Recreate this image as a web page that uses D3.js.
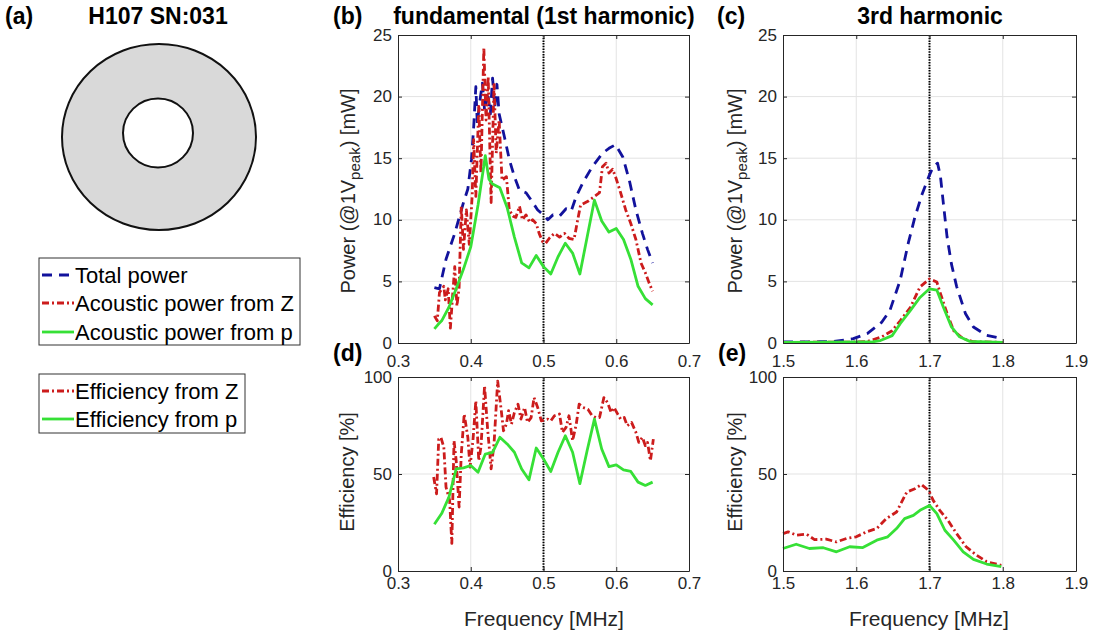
<!DOCTYPE html>
<html>
<head>
<meta charset="utf-8">
<script src="https://cdn.jsdelivr.net/npm/d3@7"></script>
<style>
  body { margin: 0; background: #fff; }
  text { font-family: "Liberation Sans", Arial, sans-serif; fill: #000; }
  .axis text { font-size: 17px; fill: #262626; }
  .axis path, .axis line { stroke: #262626; }
</style>
</head>
<body>
<div id="chart"></div>
<script>
// ---- data ----
const fundTicks = [0.3, 0.4, 0.5, 0.6, 0.7];
const thirdTicks = [1.5, 1.6, 1.7, 1.8, 1.9];
const powerTicks = [0, 5, 10, 15, 20, 25];
const effTicks = [0, 50, 100];

const powerLegend = ["Total power", "Acoustic power from Z", "Acoustic power from p"];
const effLegend = ["Efficiency from Z", "Efficiency from p"];

// (b) fundamental, power [mW]
const fundTotal = [[0.350,4.5],[0.357,4.4],[0.366,6.8],[0.378,8.9],[0.389,11.2],[0.396,12.5],[0.401,14.9],[0.404,17.5],[0.407,20.8],[0.409,17.8],[0.412,19.4],[0.416,21.1],[0.419,18.9],[0.423,20.4],[0.427,18.6],[0.430,21.5],[0.433,19.1],[0.436,21.0],[0.439,18.6],[0.446,16.8],[0.453,14.9],[0.460,13.5],[0.467,12.4],[0.476,12.2],[0.483,11.6],[0.492,10.8],[0.500,10.4],[0.506,10.0],[0.513,10.4],[0.522,10.3],[0.531,10.9],[0.538,10.7],[0.545,11.9],[0.554,13.0],[0.567,14.3],[0.581,15.4],[0.590,15.8],[0.599,16.1],[0.609,15.1],[0.618,13.2],[0.627,10.8],[0.636,8.9],[0.643,7.6],[0.650,6.5]];
const fundAcZ = [[0.350,2.2],[0.354,1.8],[0.357,4.1],[0.363,4.6],[0.365,3.5],[0.369,4.4],[0.372,1.2],[0.375,3.8],[0.378,6.2],[0.381,3.0],[0.384,4.5],[0.387,11.1],[0.390,7.6],[0.394,10.8],[0.398,8.0],[0.402,12.0],[0.404,16.5],[0.407,11.9],[0.411,19.2],[0.414,13.8],[0.418,24.0],[0.421,18.1],[0.424,21.6],[0.428,11.4],[0.432,21.1],[0.435,15.4],[0.439,18.1],[0.443,13.2],[0.449,13.5],[0.453,10.8],[0.458,10.3],[0.462,10.2],[0.467,11.1],[0.471,10.0],[0.476,10.4],[0.481,9.8],[0.485,10.0],[0.490,9.7],[0.494,8.9],[0.499,8.2],[0.503,8.1],[0.508,8.5],[0.515,8.9],[0.522,8.6],[0.529,8.9],[0.535,8.5],[0.542,8.4],[0.547,10.0],[0.551,11.2],[0.561,11.5],[0.570,11.9],[0.577,12.2],[0.581,14.3],[0.586,14.6],[0.590,13.8],[0.595,14.1],[0.599,13.5],[0.606,12.2],[0.613,10.8],[0.620,9.7],[0.627,8.4],[0.634,6.5],[0.640,5.7],[0.645,4.9],[0.650,4.2]];
const fundAcP = [[0.350,1.14],[0.355,1.5],[0.360,1.8],[0.370,2.9],[0.380,4.4],[0.390,6.0],[0.400,7.8],[0.410,11.2],[0.420,15.2],[0.425,13.3],[0.430,12.9],[0.440,12.6],[0.450,11.0],[0.460,8.6],[0.470,6.5],[0.480,6.1],[0.490,7.1],[0.500,6.2],[0.510,5.6],[0.520,7.0],[0.530,8.1],[0.540,7.3],[0.550,5.6],[0.560,8.6],[0.570,11.6],[0.580,9.9],[0.590,9.0],[0.600,9.3],[0.610,8.4],[0.620,6.8],[0.630,4.6],[0.640,3.6],[0.650,3.1]];

// (d) fundamental, efficiency [%]
const fundEffZ = [[0.349,48.4],[0.353,39.8],[0.356,68.0],[0.359,68.9],[0.363,63.8],[0.366,43.2],[0.371,36.4],[0.374,14.2],[0.377,67.2],[0.380,56.9],[0.384,33.0],[0.387,60.3],[0.391,80.9],[0.396,68.9],[0.399,53.5],[0.403,67.2],[0.407,87.7],[0.411,56.9],[0.414,63.8],[0.419,95.4],[0.423,74.0],[0.428,52.6],[0.432,65.5],[0.437,97.9],[0.442,82.6],[0.445,72.3],[0.449,75.7],[0.452,82.6],[0.456,75.7],[0.460,81.7],[0.465,86.0],[0.469,78.3],[0.474,84.3],[0.478,76.6],[0.483,79.1],[0.487,89.4],[0.492,84.3],[0.497,77.4],[0.501,77.8],[0.506,78.3],[0.510,77.4],[0.515,80.0],[0.522,80.9],[0.526,71.5],[0.531,74.0],[0.535,80.0],[0.540,67.2],[0.545,75.7],[0.549,86.0],[0.554,84.3],[0.561,83.4],[0.567,80.0],[0.572,79.1],[0.577,79.1],[0.583,89.4],[0.588,86.8],[0.593,81.7],[0.597,84.3],[0.602,80.9],[0.606,78.3],[0.611,79.1],[0.615,74.9],[0.621,76.6],[0.627,71.5],[0.631,66.3],[0.636,68.9],[0.640,64.6],[0.643,66.3],[0.647,56.9],[0.651,68.0]];
const fundEffP = [[0.35,24.1],[0.36,29.6],[0.37,38.1],[0.38,52.6],[0.39,53.2],[0.40,54.4],[0.41,50.9],[0.42,60.3],[0.43,61.2],[0.44,68.9],[0.45,65.5],[0.46,61.2],[0.47,52.6],[0.48,47.0],[0.49,63.4],[0.50,57.8],[0.51,51.3],[0.52,61.2],[0.53,69.7],[0.54,61.2],[0.55,45.0],[0.56,62.1],[0.57,78.3],[0.58,62.9],[0.59,53.8],[0.60,54.7],[0.61,52.1],[0.62,51.3],[0.63,45.8],[0.64,44.1],[0.65,45.8]];

// (c) 3rd harmonic, power [mW]
const thirdTotal = [[1.500,0.08],[1.550,0.10],[1.569,0.12],[1.596,0.35],[1.615,0.76],[1.635,1.7],[1.646,2.65],[1.660,5.1],[1.671,8.1],[1.680,10.2],[1.690,12.1],[1.699,13.5],[1.705,14.3],[1.711,14.6],[1.715,13.5],[1.719,11.3],[1.724,8.6],[1.730,6.4],[1.737,4.6],[1.749,2.4],[1.760,1.3],[1.778,0.62],[1.800,0.35]];
const thirdAcZ = [[1.500,0.05],[1.600,0.08],[1.615,0.12],[1.635,0.5],[1.649,1.0],[1.660,1.8],[1.674,2.9],[1.687,4.55],[1.700,5.2],[1.710,4.95],[1.715,4.0],[1.724,2.4],[1.733,1.0],[1.746,0.35],[1.760,0.1],[1.800,0.05]];
const thirdAcP = [[1.500,0.05],[1.620,0.08],[1.633,0.2],[1.649,0.6],[1.660,1.57],[1.674,2.65],[1.687,3.7],[1.700,4.4],[1.710,4.3],[1.719,2.9],[1.730,1.3],[1.741,0.5],[1.755,0.13],[1.800,0.05]];

// (e) 3rd harmonic, efficiency [%]
const thirdEffZ = [[1.500,19.3],[1.507,20.2],[1.518,18.5],[1.532,19.0],[1.543,16.2],[1.559,16.4],[1.573,15.0],[1.587,16.8],[1.600,17.6],[1.614,20.2],[1.628,21.9],[1.641,27.0],[1.655,30.4],[1.669,40.7],[1.680,42.4],[1.689,44.6],[1.696,42.4],[1.700,40.7],[1.705,36.4],[1.714,31.3],[1.725,26.2],[1.737,19.3],[1.750,12.5],[1.764,8.2],[1.778,4.8],[1.798,2.9]];
const thirdEffP = [[1.500,11.6],[1.518,13.8],[1.536,11.6],[1.555,12.0],[1.573,9.9],[1.591,12.5],[1.609,12.1],[1.628,15.9],[1.643,17.6],[1.655,21.9],[1.666,27.0],[1.678,28.7],[1.687,31.3],[1.700,33.8],[1.710,29.6],[1.721,21.0],[1.733,15.9],[1.746,9.9],[1.760,6.0],[1.778,3.6],[1.798,2.2]];

// ---- styles ----
const styles = {
  total: { color: "#12129c", dash: "10,7" },
  acZ: { color: "#cc1c1c", dash: "7,3,2,3" },
  acP: { color: "#36e036", dash: null }
};

const svg = d3.select("#chart").append("svg")
  .attr("width", 1096)
  .attr("height", 635);

svg.append("rect").attr("width", 1096).attr("height", 635).attr("fill", "#fff");

const panels = [
  { box: [398, 689, 35, 343], xd: [0.3, 0.7], yd: [0, 25], xt: fundTicks, yt: powerTicks, mark: 0.5, pad: 12,
    series: [[fundTotal, "total"], [fundAcZ, "acZ"], [fundAcP, "acP"]] },
  { box: [398, 689, 377, 571], xd: [0.3, 0.7], yd: [0, 100], xt: fundTicks, yt: effTicks, mark: 0.5, pad: 6,
    series: [[fundEffZ, "acZ"], [fundEffP, "acP"]] },
  { box: [783, 1076, 35, 343], xd: [1.5, 1.9], yd: [0, 25], xt: thirdTicks, yt: powerTicks, mark: 1.7, pad: 12,
    series: [[thirdTotal, "total"], [thirdAcZ, "acZ"], [thirdAcP, "acP"]] },
  { box: [783, 1076, 377, 571], xd: [1.5, 1.9], yd: [0, 100], xt: thirdTicks, yt: effTicks, mark: 1.7, pad: 6,
    series: [[thirdEffZ, "acZ"], [thirdEffP, "acP"]] }
];

panels.forEach(p => {
  const [x0, x1, y0, y1] = p.box;
  const x = d3.scaleLinear().domain(p.xd).range([x0, x1]);
  const y = d3.scaleLinear().domain(p.yd).range([y1, y0]);
  const g = svg.append("g");

  // grid
  g.append("g").selectAll("line").data(p.xt.slice(1, -1)).join("line")
    .attr("x1", d => x(d)).attr("x2", d => x(d)).attr("y1", y0).attr("y2", y1)
    .attr("stroke", "#e3e3e3");
  g.append("g").selectAll("line").data(p.yt.slice(1, -1)).join("line")
    .attr("y1", d => y(d)).attr("y2", d => y(d)).attr("x1", x0).attr("x2", x1)
    .attr("stroke", "#e3e3e3");

  // marker line
  g.append("line")
    .attr("x1", x(p.mark)).attr("x2", x(p.mark)).attr("y1", y0).attr("y2", y1)
    .attr("stroke", "#000").attr("stroke-width", 2).attr("stroke-dasharray", "1.5,1.2");

  // series
  const line = d3.line().x(d => x(d[0])).y(d => y(d[1]));
  p.series.forEach(([data, key]) => {
    g.append("path")
      .datum(data)
      .attr("d", line)
      .attr("fill", "none")
      .attr("stroke", styles[key].color)
      .attr("stroke-width", 2.8)
      .attr("stroke-linejoin", "round")
      .attr("stroke-dasharray", styles[key].dash);
  });

  // axes
  g.append("g").attr("class", "axis")
    .attr("transform", `translate(0,${y1})`)
    .call(d3.axisBottom(x).tickValues(p.xt).tickSizeInner(-4).tickSizeOuter(0).tickPadding(p.pad).tickFormat(d3.format(".1f")));
  g.append("g").attr("class", "axis")
    .attr("transform", `translate(${x0},0)`)
    .call(d3.axisLeft(y).tickValues(p.yt).tickSizeInner(-4).tickSizeOuter(0).tickPadding(6))
    .selectAll("text").attr("dy", "0.3em");
  g.append("g").attr("class", "axis")
    .attr("transform", `translate(0,${y0})`)
    .call(d3.axisTop(x).tickValues(p.xt).tickSizeInner(-4).tickSizeOuter(0).tickFormat(""));
  g.append("g").attr("class", "axis")
    .attr("transform", `translate(${x1},0)`)
    .call(d3.axisRight(y).tickValues(p.yt).tickSizeInner(-4).tickSizeOuter(0).tickFormat(""));
});

// axis labels
const powerLabel = (cx, cy) => {
  const t = svg.append("text")
    .attr("transform", `translate(${cx},${cy}) rotate(-90)`)
    .attr("text-anchor", "middle")
    .attr("dominant-baseline", "central")
    .style("font-size", "20px")
    .style("fill", "#262626");
  t.append("tspan").text("Power (@1V");
  t.append("tspan").attr("dy", 6).style("font-size", "15px").text("peak");
  t.append("tspan").attr("dy", -6).text(") [mW]");
};
powerLabel(348, 191);
powerLabel(735, 191);

[[347, 472], [735, 472]].forEach(([cx, cy]) => {
  svg.append("text")
    .attr("transform", `translate(${cx},${cy}) rotate(-90)`)
    .attr("text-anchor", "middle")
    .attr("dominant-baseline", "central")
    .style("font-size", "20px")
    .style("fill", "#262626")
    .text("Efficiency [%]");
});

[544, 929].forEach(cx => {
  svg.append("text")
    .attr("x", cx).attr("y", 618)
    .attr("text-anchor", "middle")
    .attr("dominant-baseline", "central")
    .style("font-size", "21px")
    .style("fill", "#262626")
    .text("Frequency [MHz]");
});

// titles and panel letters
const bold = (txt, x, y, anchor) => svg.append("text")
  .attr("x", x).attr("y", y)
  .attr("text-anchor", anchor)
  .attr("dominant-baseline", "central")
  .style("font-size", "23px")
  .style("font-weight", "bold")
  .text(txt);

bold("(a)", 5, 16, "start");
bold("H107 SN:031", 158, 16, "middle");
bold("(b)", 333, 16, "start");
bold("fundamental (1st harmonic)", 544, 16, "middle");
bold("(c)", 717, 16, "start");
bold("3rd harmonic", 930, 16, "middle");
bold("(d)", 333, 353, "start");
bold("(e)", 718, 353, "start");

// ring sketch
svg.append("ellipse")
  .attr("cx", 159).attr("cy", 137).attr("rx", 97).attr("ry", 93)
  .attr("fill", "#d9d9d9").attr("stroke", "#111").attr("stroke-width", 2);
svg.append("ellipse")
  .attr("cx", 158).attr("cy", 133).attr("rx", 35).attr("ry", 34.5)
  .attr("fill", "#fff").attr("stroke", "#111").attr("stroke-width", 2);

// legends
const drawLegend = (labels, keys, x0, y0, w, h, rowY) => {
  const lg = svg.append("g");
  lg.append("rect")
    .attr("x", x0).attr("y", y0).attr("width", w).attr("height", h)
    .attr("fill", "#fff").attr("stroke", "#333").attr("stroke-width", 1);
  labels.forEach((lab, i) => {
    const yy = rowY[i];
    const s = styles[keys[i]];
    lg.append("line")
      .attr("x1", x0 + 3).attr("x2", x0 + 35).attr("y1", yy).attr("y2", yy)
      .attr("stroke", s.color).attr("stroke-width", 2.8)
      .attr("stroke-dasharray", s.dash);
    lg.append("text")
      .attr("x", x0 + 36).attr("y", yy)
      .attr("dominant-baseline", "central")
      .style("font-size", "22px")
      .text(lab);
  });
};
drawLegend(powerLegend, ["total", "acZ", "acP"], 39, 258, 261, 87, [275, 303, 332]);
drawLegend(effLegend, ["acZ", "acP"], 39, 374, 206, 59, [391, 419]);
</script>
</body>
</html>
